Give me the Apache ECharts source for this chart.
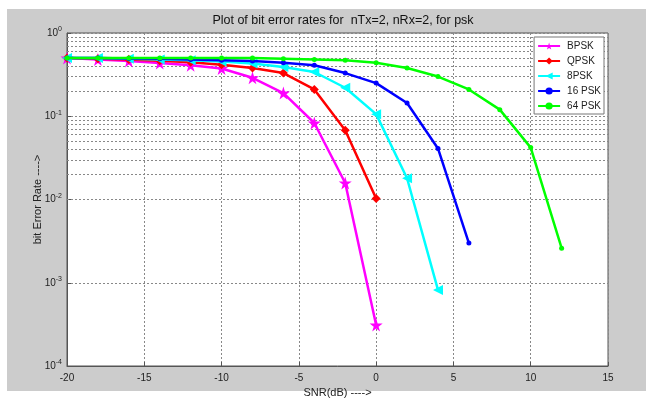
<!DOCTYPE html>
<html><head><meta charset="utf-8">
<script src="https://cdn.jsdelivr.net/npm/echarts@6/dist/echarts.min.js"></script>
<style>html,body{margin:0;padding:0;background:#fff}#c{width:653px;height:398px}</style>
</head><body><div id="c"></div>
<script>
const titleText = 'Plot of bit error rates for  nTx=2, nRx=2, for psk';
const xTicks = [-20, -15, -10, -5, 0, 5, 10, 15];
const seriesNames = ['BPSK', 'QPSK', '8PSK', '16 PSK', '64 PSK'];

const snrBPSK = [-20, -18, -16, -14, -12, -10, -8, -6, -4, -2, 0];
const berBPSK = [0.50, 0.48, 0.46, 0.435, 0.41, 0.375, 0.29, 0.19, 0.083, 0.0158, 0.00031];

const snrQPSK = [-20, -18, -16, -14, -12, -10, -8, -6, -4, -2, 0];
const berQPSK = [0.50, 0.49, 0.48, 0.465, 0.445, 0.415, 0.38, 0.33, 0.21, 0.068, 0.0103];

const snr8PSK = [-20, -18, -16, -14, -12, -10, -8, -6, -4, -2, 0, 2, 4];
const ber8PSK = [0.50, 0.50, 0.49, 0.48, 0.47, 0.455, 0.43, 0.39, 0.34, 0.22, 0.106, 0.018, 0.00082];

const snr16PSK = [-20, -18, -16, -14, -12, -10, -8, -6, -4, -2, 0, 2, 4, 6];
const ber16PSK = [0.50, 0.50, 0.495, 0.49, 0.48, 0.47, 0.46, 0.44, 0.41, 0.33, 0.25, 0.144, 0.041, 0.0030];

const snr64PSK = [-20, -18, -16, -14, -12, -10, -8, -6, -4, -2, 0, 2, 4, 6, 8, 10, 12];
const ber64PSK = [0.50, 0.50, 0.50, 0.50, 0.50, 0.50, 0.50, 0.49, 0.48, 0.47, 0.44, 0.38, 0.30, 0.21, 0.12, 0.042, 0.0026];

const seriesColors = ['#ff00ff', '#ff0000', '#00ffff', '#0000ff', '#00ff00'];

function zip(xs, ys) { return xs.map((x, i) => [x, ys[i]]); }

const minorGrid = [];
for (let d = -4; d <= -1; d++) for (let k = 2; k <= 9; k++) minorGrid.push(+(k * Math.pow(10, d)).toPrecision(3));

const starPath = 'path://M50,0 L61,35 L98,35 L68,57 L79,91 L50,70 L21,91 L32,57 L2,35 L39,35 Z';
const leftTri = 'path://M0,50 L100,0 L100,100 Z';
const symbols = [starPath, 'diamond', leftTri, 'circle', 'circle'];
const symSizes = [13, 9, 10, 5, 5];
const datasets = [zip(snrBPSK, berBPSK), zip(snrQPSK, berQPSK), zip(snr8PSK, ber8PSK), zip(snr16PSK, ber16PSK), zip(snr64PSK, ber64PSK)];

const FONT = '"Liberation Sans", Arial, sans-serif';
const chart = echarts.init(document.getElementById('c'), null, {renderer: 'canvas'});

const series = seriesNames.map((n, i) => ({
  name: n, type: 'line', data: datasets[i],
  symbol: symbols[i], symbolSize: symSizes[i],
  lineStyle: {color: seriesColors[i], width: 2.5},
  itemStyle: {color: seriesColors[i]},
  z: 3 + i, animation: false
}));
series.push({
  name: '_grid', type: 'line', data: [[-20, 0.5]], silent: true, animation: false,
  symbol: 'none', lineStyle: {opacity: 0}, z: 1, zlevel: 0,
  markLine: {
    silent: true, symbol: 'none', label: {show: false}, animation: false, z: 1,
    lineStyle: {color: '#888', type: [2, 2], width: 1},
    data: minorGrid.map(v => ({yAxis: v}))
  }
});

chart.setOption({
  animation: false,
  backgroundColor: '#ffffff',
  graphic: [{type: 'rect', shape: {x: 7, y: 9, width: 639, height: 382}, style: {fill: '#cccccc'}, z: -10, silent: true}],
  title: {text: titleText, left: 338, top: 9, textAlign: 'center',
    textStyle: {fontFamily: FONT, fontSize: 12.5, fontWeight: 'normal', color: '#111'}},
  grid: {left: 67, right: 45, top: 33, bottom: 32, show: true, outerBoundsMode: 'none', containLabel: false,
    backgroundColor: '#ffffff', borderColor: '#555', borderWidth: 1},
  legend: {
    data: seriesNames, orient: 'vertical', right: 49, top: 37, z: 50,
    backgroundColor: '#ffffff', borderColor: '#777', borderWidth: 1, padding: [4, 3, 3, 3],
    itemWidth: 22, itemHeight: 9, itemGap: 5,
    textStyle: {fontFamily: FONT, fontSize: 10, color: '#222', padding: [0, 0, 0, 2]}
  },
  xAxis: {
    type: 'value', min: -20, max: 15, interval: 5,
    name: 'SNR(dB) ---->', nameLocation: 'middle', nameGap: 16,
    nameTextStyle: {fontFamily: FONT, fontSize: 11, color: '#222'},
    axisLine: {show: true, onZero: false, lineStyle: {color: '#555'}},
    axisTick: {show: true, inside: true, length: 4, lineStyle: {color: '#555'}},
    axisLabel: {fontFamily: FONT, fontSize: 10, color: '#222', margin: 7,
      formatter: v => xTicks.includes(v) ? String(v) : ''},
    splitLine: {show: true, lineStyle: {color: '#888', type: [2, 2], width: 1}}
  },
  yAxis: {
    type: 'log', logBase: 10, min: 1e-4, max: 1,
    name: 'bit Error Rate ---->', nameLocation: 'middle', nameGap: 24, nameMoveOverlap: false,
    nameTextStyle: {fontFamily: FONT, fontSize: 11, color: '#222'},
    axisLine: {show: true, onZero: false, lineStyle: {color: '#555'}},
    axisTick: {show: true, inside: true, length: 4, lineStyle: {color: '#555'}},
    axisLabel: {
      fontFamily: FONT, margin: 5, color: '#222',
      formatter: v => '{b|10}{s|' + Math.round(Math.log10(v)) + '}',
      rich: {b: {fontFamily: FONT, fontSize: 10, color: '#222'}, s: {fontFamily: FONT, fontSize: 7, color: '#222', padding: [0, 0, 7, 0]}}
    },
    splitLine: {show: true, lineStyle: {color: '#888', type: [2, 2], width: 1}}
  },
  series: series
});
</script>
</body></html>
